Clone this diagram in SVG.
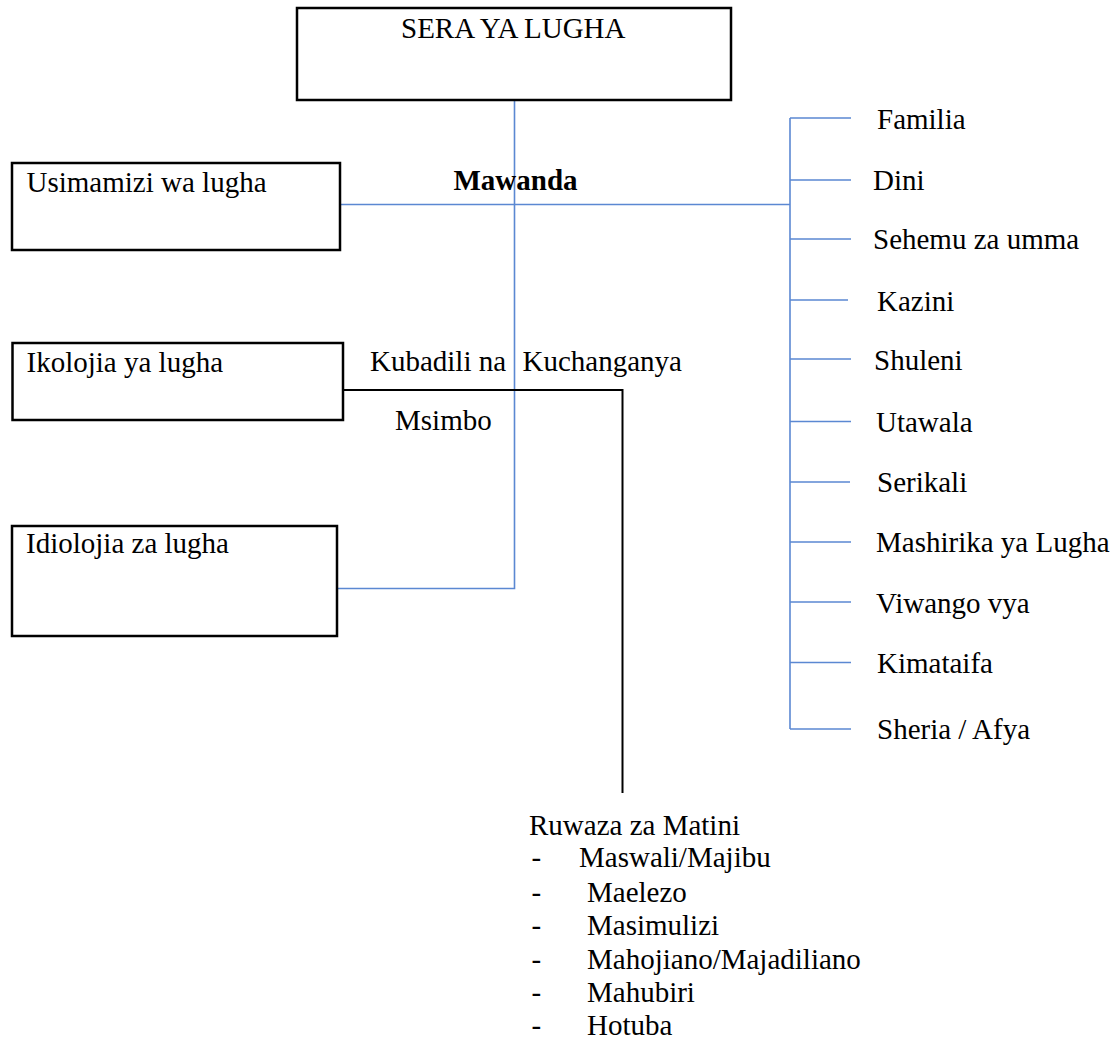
<svg xmlns="http://www.w3.org/2000/svg" width="1115" height="1041" viewBox="0 0 1115 1041">
<style>
text{font-family:"Liberation Serif","Times New Roman",serif;font-size:29px;fill:#000}
.b{font-weight:bold}
.box{fill:#fff;stroke:#000;stroke-width:2.5}
.blue{stroke:#5B88D2;stroke-width:1.6;fill:none}
.blk{stroke:#000;stroke-width:2;fill:none}
</style>
<rect width="1115" height="1041" fill="#fff"/>
<g id="connectors">
<path class="blue" d="M514.5 100V588.5H338"/>
<path class="blue" d="M340 204.5H790"/>
<path class="blue" d="M790 118V729"/>
<path class="blue" d="M790 118H851M790 180H851M790 239H851M790 300H848M790 359H851M790 421.5H851M790 482H850M790 542H851M790 602H851M790 662.5H851M790 729H851"/>
<path class="blk" d="M343 390H622.5V793"/>
</g>
<g id="sera"><rect class="box" x="297" y="8" width="434" height="92"/><text x="401" y="37.5">SERA YA LUGHA</text></g>
<g id="usimamizi"><rect class="box" x="12" y="163" width="328" height="87"/><text x="26.5" y="191.5">Usimamizi wa lugha</text></g>
<g id="ikolojia"><rect class="box" x="12.5" y="343" width="330.5" height="77"/><text x="26.5" y="371.5">Ikolojia ya lugha</text></g>
<g id="idiolojia"><rect class="box" x="12" y="526" width="325" height="110"/><text x="26" y="553">Idiolojia za lugha</text></g>
<g id="labels">
<text class="b" x="453.5" y="190">Mawanda</text>
<text x="370" y="371">Kubadili na</text>
<text x="522.5" y="371">Kuchanganya</text>
<text x="395" y="430">Msimbo</text>
</g>
<g id="mawanda-items">
<text x="877" y="129">Familia</text>
<text x="873" y="190">Dini</text>
<text x="873" y="249">Sehemu za umma</text>
<text x="877" y="310.5">Kazini</text>
<text x="874" y="370">Shuleni</text>
<text x="876" y="432">Utawala</text>
<text x="877" y="492">Serikali</text>
<text x="876" y="552">Mashirika ya Lugha</text>
<text x="876" y="612.5">Viwango vya</text>
<text x="877" y="673">Kimataifa</text>
<text x="877" y="739">Sheria / Afya</text>
</g>
<g id="ruwaza">
<text x="529" y="835">Ruwaza za Matini</text>
<text x="531.5" y="867">-</text><text x="579" y="867">Maswali/Majibu</text>
<text x="531.5" y="901.5">-</text><text x="587" y="901.5">Maelezo</text>
<text x="531.5" y="935">-</text><text x="587" y="935">Masimulizi</text>
<text x="531.5" y="968.5">-</text><text x="587" y="968.5">Mahojiano/Majadiliano</text>
<text x="531.5" y="1002">-</text><text x="587" y="1002">Mahubiri</text>
<text x="531.5" y="1035">-</text><text x="587" y="1035">Hotuba</text>
</g>
</svg>
